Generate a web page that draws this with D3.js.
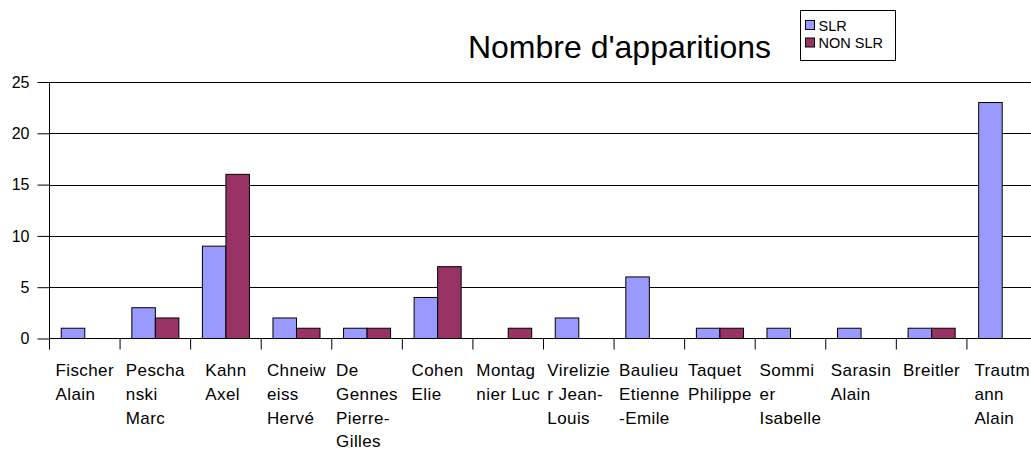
<!DOCTYPE html>
<html>
<head>
<meta charset="utf-8">
<script src="https://cdn.jsdelivr.net/npm/d3@7"></script>
<style>
  html, body { margin: 0; padding: 0; background: #fff; overflow: hidden; }
  svg { display: block; font-family: "Liberation Sans", Arial, sans-serif; }
</style>
</head>
<body>
<script>
// données
const categories = [
  "Fischer Alain", "Peschanski Marc", "Kahn Axel", "Chneiweiss Hervé",
  "De Gennes Pierre-Gilles", "Cohen Elie", "Montagnier Luc", "Virelizier Jean-Louis",
  "Baulieu Etienne-Emile", "Taquet Philippe", "Sommier Isabelle", "Sarasin Alain",
  "Breitler", "Trautmann Alain"
];
// libellés coupés comme dans l'original
const labelLines = [
  ["Fischer", "Alain"], ["Pescha", "nski", "Marc"], ["Kahn", "Axel"],
  ["Chneiw", "eiss", "Hervé"], ["De", "Gennes", "Pierre-", "Gilles"], ["Cohen", "Elie"],
  ["Montag", "nier Luc"], ["Virelizie", "r Jean-", "Louis"], ["Baulieu", "Etienne", "-Emile"],
  ["Taquet", "Philippe"], ["Sommi", "er", "Isabelle"], ["Sarasin", "Alain"],
  ["Breitler"], ["Trautm", "ann", "Alain"]
];
const series = ["SLR", "NON SLR"];
const slr    = [1, 3, 9, 2, 1, 4, 0, 2, 6, 1, 1, 1, 1, 23];
const nonSlr = [0, 2, 16, 1, 1, 7, 1, 0, 0, 1, 0, 0, 1, 0];
const yTicks = [0, 5, 10, 15, 20, 25];
const colors = ["#9999ff", "#993366"];

const width = 1031, height = 450;
const plot = { left: 49.5, top: 82, bottom: 338.5, step: 70.57 };

const svg = d3.select("body").append("svg")
  .attr("width", width).attr("height", height);

// échelles
const x0 = d3.scaleBand()
  .domain(categories)
  .range([plot.left, plot.left + plot.step * categories.length])
  .padding(0);
const x1 = d3.scaleBand()
  .domain(series)
  .range([0, x0.bandwidth()])
  .paddingInner(0).paddingOuter(0.5);
const y = d3.scaleLinear().domain([0, 25]).range([plot.bottom, plot.top]);

// grille
svg.append("g")
  .selectAll("line")
  .data(yTicks.filter(d => d > 0))
  .join("line")
  .attr("x1", plot.left).attr("x2", x0.range()[1])
  .attr("y1", d => Math.round(y(d)) + 0.5).attr("y2", d => Math.round(y(d)) + 0.5)
  .attr("stroke", "#000").attr("stroke-width", 1);

// barres
const data = categories.map((c, i) => ({ cat: c, values: [slr[i], nonSlr[i]] }));
svg.append("g")
  .selectAll("g")
  .data(data)
  .join("g")
  .attr("transform", d => `translate(${x0(d.cat)},0)`)
  .selectAll("rect")
  .data(d => d.values.map((v, j) => ({ s: series[j], v, j })).filter(e => e.v > 0))
  .join("rect")
  .attr("x", d => x1(d.s))
  .attr("y", d => y(d.v))
  .attr("width", x1.bandwidth())
  .attr("height", d => y(0) - y(d.v))
  .attr("fill", d => colors[d.j])
  .attr("stroke", "#000")
  .attr("stroke-width", 1);

// axe Y
const yAxis = d3.axisLeft(y).tickValues(yTicks).tickSize(12).tickPadding(8);
svg.append("g")
  .attr("transform", `translate(${plot.left},0)`)
  .call(yAxis)
  .call(g => g.select(".domain").attr("d", `M0,${plot.top}V${plot.bottom}`))
  .call(g => g.selectAll("text").attr("font-size", 16).attr("fill", "#000")
    .attr("font-family", "Liberation Sans, Arial, sans-serif"));

// axe X
const boundaries = categories.map(c => x0(c));
svg.append("g").attr("transform", `translate(0,${plot.bottom})`)
  .call(g => g.append("line").attr("x1", plot.left).attr("x2", x0.range()[1])
    .attr("stroke", "#000"))
  .selectAll("line.tick")
  .data(boundaries)
  .join("line")
  .attr("class", "tick")
  .attr("x1", d => d).attr("x2", d => d)
  .attr("y1", 0).attr("y2", 11)
  .attr("stroke", "#000");

// libellés des catégories
const labels = svg.append("g")
  .selectAll("text")
  .data(categories)
  .join("text")
  .attr("font-size", 17)
  .attr("letter-spacing", 0.4)
  .attr("fill", "#000");
labels.each(function (c, i) {
  const t = d3.select(this);
  labelLines[i].forEach((line, k) => {
    t.append("tspan").attr("y", 376 + k * 23.8).text(line);
  });
  const w = d3.max(t.selectAll("tspan").nodes(), n => n.getComputedTextLength());
  const left = x0(c) + x0.bandwidth() / 2 - w / 2;
  t.selectAll("tspan").attr("x", left);
});

// titre
svg.append("text")
  .attr("x", 619.5).attr("y", 58)
  .attr("text-anchor", "middle")
  .attr("font-size", 32)
  .attr("fill", "#000")
  .text("Nombre d'apparitions");

// légende
const legend = svg.append("g").attr("transform", "translate(800.5,10.5)");
legend.append("rect").attr("width", 95).attr("height", 50)
  .attr("fill", "#fff").attr("stroke", "#000");
series.forEach((s, i) => {
  legend.append("rect")
    .attr("x", 5).attr("y", 10 + i * 17.5)
    .attr("width", 9).attr("height", 9)
    .attr("fill", colors[i]).attr("stroke", "#000");
  legend.append("text")
    .attr("x", 18).attr("y", 20 + i * 17.5)
    .attr("font-size", 14.5)
    .attr("fill", "#000")
    .text(s);
});
</script>
</body>
</html>
